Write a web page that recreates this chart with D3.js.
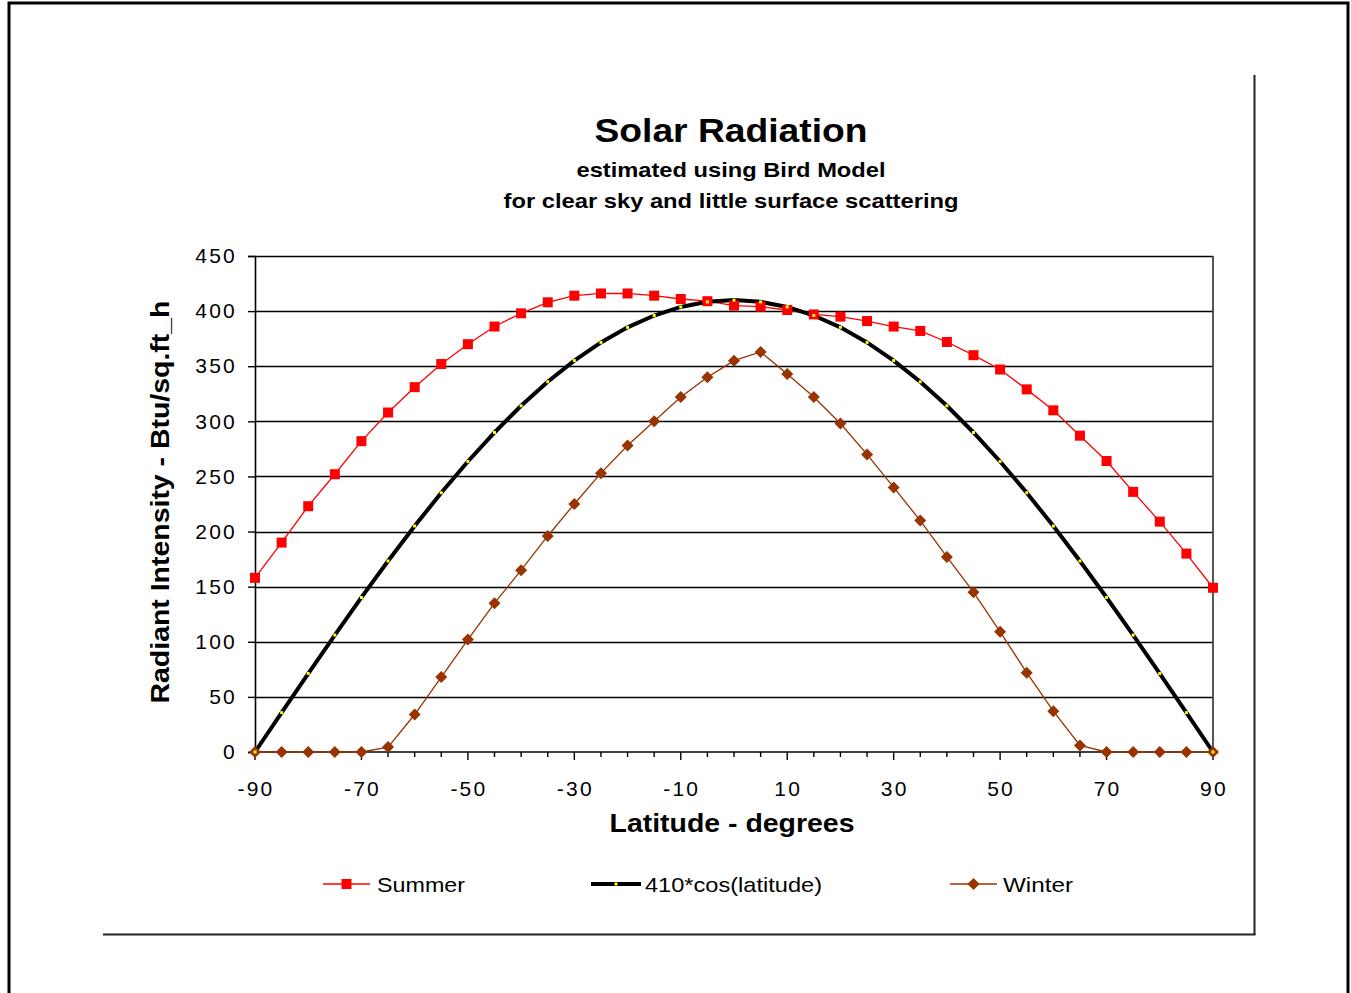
<!DOCTYPE html>
<html>
<head>
<meta charset="utf-8">
<script src="https://cdn.jsdelivr.net/npm/d3@7"></script>
<style>
  html, body { margin: 0; padding: 0; background: #fff; }
  svg { display: block; }
  text { font-family: "Liberation Sans", Arial, sans-serif; fill: #000; }
</style>
</head>
<body>
<svg id="chart" width="1351" height="993"></svg>
<script>
// ---- data ----
const latitudes = [-90,-85,-80,-75,-70,-65,-60,-55,-50,-45,-40,-35,-30,-25,-20,-15,-10,-5,0,5,10,15,20,25,30,35,40,45,50,55,60,65,70,75,80,85,90];
const summer = [158,190,223,252,282,308,331,352,370,386,398,408,414,416,416,414,411,409,405,404,401,397,395,391,386,382,372,360,347,329,310,287,264,236,209,180,149];
const cosine = [0,35.7,71.2,106.1,140.2,173.3,205,235.2,263.6,289.9,314.1,335.9,355.1,371.6,385.3,396,403.8,408.4,410,408.4,403.8,396,385.3,371.6,355.1,335.9,314.1,289.9,263.6,235.2,205,173.3,140.2,106.1,71.2,35.7,0];
const winter = [0,0,0,0,0,4.5,34,68,102,135,165,196,225,253,278,300,322,340,355,363,343,322,298,270,240,210,177,145,109,72,37,6,0,0,0,0,0];
const xTickLabels = [-90,-70,-50,-30,-10,10,30,50,70,90];
const yTickLabels = [0,50,100,150,200,250,300,350,400,450];
const seriesNames = ["Summer","410*cos(latitude)","Winter"];

const svg = d3.select("#chart");

// outer border
svg.append("rect").attr("x",9).attr("y",3).attr("width",1339).attr("height",1010)
  .attr("fill","none").attr("stroke","#000").attr("stroke-width",3);
// chart area partial frame
svg.append("line").attr("x1",1254.5).attr("x2",1254.5).attr("y1",75).attr("y2",935)
  .attr("stroke","#222").attr("stroke-width",2);
svg.append("line").attr("x1",103).attr("x2",1255.5).attr("y1",934.5).attr("y2",934.5)
  .attr("stroke","#222").attr("stroke-width",2);

const x = d3.scaleLinear().domain([-90,90]).range([255,1213]);
const y = d3.scaleLinear().domain([0,450]).range([752,256]);

// gridlines
svg.append("g").selectAll("line").data(yTickLabels.filter(v=>v>0)).join("line")
  .attr("x1",x(-90)).attr("x2",x(90))
  .attr("y1",d=>Math.round(y(d))+0.5).attr("y2",d=>Math.round(y(d))+0.5)
  .attr("stroke","#000").attr("stroke-width",1.7);
// plot right border
svg.append("line").attr("x1",x(90)).attr("x2",x(90)).attr("y1",y(450)).attr("y2",y(0))
  .attr("stroke","#444").attr("stroke-width",1.8);

// y axis
const yAxis = d3.axisLeft(y).tickValues(yTickLabels).tickSize(7).tickPadding(11).tickFormat(d3.format("d"));
const gy = svg.append("g").attr("transform",`translate(${x(-90)},0)`).call(yAxis);
gy.select(".domain").attr("stroke","#000").attr("stroke-width",1.6);
gy.selectAll(".tick line").attr("stroke","#000").attr("stroke-width",1.4);
gy.selectAll(".tick text").style("font-size","21px").style("letter-spacing","2.2px")
  .style("font-family","'Liberation Sans', Arial, sans-serif").attr("fill","#000");

// x axis: minor ticks every 5, major every 20
const gx = svg.append("g").attr("transform",`translate(0,${y(0)})`);
gx.append("line").attr("x1",x(-90)).attr("x2",x(90)).attr("y1",0).attr("y2",0)
  .attr("stroke","#000").attr("stroke-width",1.6);
gx.selectAll("line.minor").data(latitudes).join("line").attr("class","minor")
  .attr("x1",d=>x(d)).attr("x2",d=>x(d)).attr("y1",0)
  .attr("y2",d=>xTickLabels.includes(d)?8:5)
  .attr("stroke","#000").attr("stroke-width",1.4);
gx.selectAll("text").data(xTickLabels).join("text")
  .attr("x",d=>x(d)+1).attr("y",44).attr("text-anchor","middle")
  .style("font-size","21px").style("letter-spacing","2.2px").text(d=>d);

// lines
const line = (vals) => d3.line().x((d,i)=>x(latitudes[i])).y(d=>y(d))(vals);
svg.append("path").attr("d",line(summer)).attr("fill","none").attr("stroke","#ff0000").attr("stroke-width",1.3);
svg.append("path").attr("d",line(winter)).attr("fill","none").attr("stroke","#993300").attr("stroke-width",1.3);
svg.append("path").attr("d",line(cosine)).attr("fill","none").attr("stroke","#000").attr("stroke-width",4);

// markers
svg.append("g").selectAll("path").data(winter).join("path")
  .attr("transform",(d,i)=>`translate(${x(latitudes[i])},${y(d)})`)
  .attr("d","M0,-6L6,0L0,6L-6,0Z").attr("fill","#993300");
svg.append("g").selectAll("rect").data(summer).join("rect")
  .attr("x",(d,i)=>x(latitudes[i])-5).attr("y",d=>y(d)-5)
  .attr("width",10).attr("height",10).attr("fill","#ff0000");
svg.append("g").selectAll("rect").data(cosine).join("rect")
  .attr("x",(d,i)=>x(latitudes[i])-1.5).attr("y",d=>y(d)-1.5)
  .attr("width",3).attr("height",3).attr("fill","#ffff00");

// titles
function txt(xp, yp, size, bold, len, s, anchor) {
  return svg.append("text").attr("x",xp).attr("y",yp).attr("text-anchor",anchor||"middle")
    .style("font-size",size+"px").style("font-weight",bold?"bold":"normal")
    .attr("textLength",len).attr("lengthAdjust","spacingAndGlyphs").text(s);
}
txt(731,142,33,true,273,"Solar Radiation");
txt(731,177,21,true,309,"estimated using Bird Model");
txt(731,208,21,true,455,"for clear sky and little surface scattering");
txt(732,832,25,true,245,"Latitude - degrees");
svg.append("text").attr("transform","translate(169,502) rotate(-90)").attr("text-anchor","middle")
  .style("font-size","25px").style("font-weight","bold")
  .attr("textLength",403).attr("lengthAdjust","spacingAndGlyphs")
  .text("Radiant Intensity - Btu/sq.ft_h");

// legend
const legY = 884;
const leg = [
  {x1:323, x2:370, tx:377, color:"#ff0000", w:1.3, len:88},
  {x1:591, x2:641, tx:645, color:"#000", w:4, len:177},
  {x1:950, x2:997, tx:1003, color:"#993300", w:1.3, len:70}
];
leg.forEach((l,i)=>{
  svg.append("line").attr("x1",l.x1).attr("x2",l.x2).attr("y1",legY).attr("y2",legY)
    .attr("stroke",l.color).attr("stroke-width",l.w);
  const cx = (l.x1+l.x2)/2;
  if(i===0) svg.append("rect").attr("x",cx-5).attr("y",legY-5).attr("width",10).attr("height",10).attr("fill","#ff0000");
  if(i===1) svg.append("rect").attr("x",cx-1.5).attr("y",legY-1.5).attr("width",3).attr("height",3).attr("fill","#ffff00");
  if(i===2) svg.append("path").attr("transform",`translate(${cx},${legY})`).attr("d","M0,-6L6,0L0,6L-6,0Z").attr("fill","#993300");
  txt(l.tx, legY+8, 21, false, l.len, seriesNames[i], "start");
});
</script>
</body>
</html>
